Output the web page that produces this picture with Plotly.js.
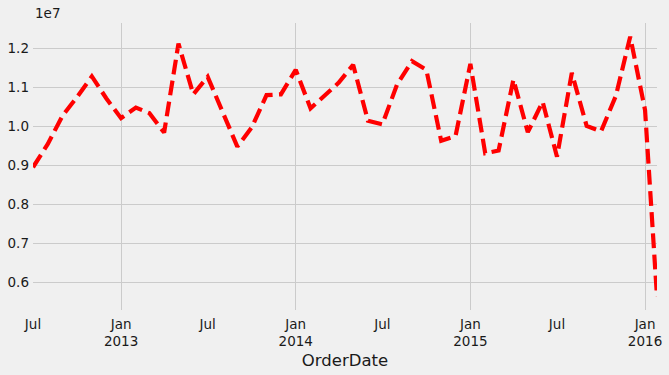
<!DOCTYPE html>
<html>
<head>
<meta charset="utf-8">
<script src="https://cdn.plot.ly/plotly-3.0.1.min.js"></script>
<style>
html, body { margin: 0; padding: 0; background: #f0f0f0; }
#chart { width: 669px; height: 375px; }
</style>
</head>
<body>
<div id="chart"></div>
<script>
// Order dates (monthly) and total sales
const orderDates = [
  "2012-07-01","2012-08-01","2012-09-01","2012-10-01","2012-11-01","2012-12-01",
  "2013-01-01","2013-02-01","2013-03-01","2013-04-01","2013-05-01","2013-06-01",
  "2013-07-01","2013-08-01","2013-09-01","2013-10-01","2013-11-01","2013-12-01",
  "2014-01-01","2014-02-01","2014-03-01","2014-04-01","2014-05-01","2014-06-01",
  "2014-07-01","2014-08-01","2014-09-01","2014-10-01","2014-11-01","2014-12-01",
  "2015-01-01","2015-02-01","2015-03-01","2015-04-01","2015-05-01","2015-06-01",
  "2015-07-01","2015-08-01","2015-09-01","2015-10-01","2015-11-01","2015-12-01",
  "2016-01-01","2016-01-26"
];
const sales = [
  8950000, 9550000, 10280000, 10750000, 11280000, 10720000,
  10210000, 10480000, 10340000, 9840000, 12120000, 10820000,
  11270000, 10400000, 9480000, 9970000, 10800000, 10820000,
  11450000, 10460000, 10780000, 11120000, 11580000, 10140000,
  10050000, 11080000, 11670000, 11450000, 9630000, 9750000,
  11600000, 9310000, 9380000, 11200000, 9850000, 10630000,
  9220000, 11370000, 10010000, 9870000, 10780000, 12300000,
  10420000, 5625000
];

// Axis ticks
const xTickVals = ["2012-07-01","2013-01-01","2013-07-01","2014-01-01","2014-07-01","2015-01-01","2015-07-01","2016-01-01"];
const xTickText = ["Jul","Jan<br>2013","Jul","Jan<br>2014","Jul","Jan<br>2015","Jul","Jan<br>2016"];
const xGridVals = ["2013-01-01","2014-01-01","2015-01-01","2016-01-01"];
const yTickVals = [6000000, 7000000, 8000000, 9000000, 10000000, 11000000, 12000000];
const yTickText = ["0.6","0.7","0.8","0.9","1.0","1.1","1.2"];

const font = { family: "DejaVu Sans, sans-serif", size: 13.5, color: "#1a1a1a" };

const trace = {
  x: orderDates,
  y: sales,
  type: "scatter",
  mode: "lines",
  line: { color: "#ff0000", width: 4.2, dash: "14.8px,6.4px" },
  hoverinfo: "x+y"
};

const layout = {
  width: 669,
  height: 375,
  paper_bgcolor: "#f0f0f0",
  plot_bgcolor: "#f0f0f0",
  font: font,
  showlegend: false,
  margin: { l: 33, r: 12, t: 23, b: 65, pad: 0 },
  xaxis: {
    type: "date",
    range: ["2012-07-01", "2016-01-26"],
    tickmode: "array",
    tickvals: xTickVals,
    ticktext: xTickText,
    ticks: "",
    showgrid: false,
    zeroline: false,
    showline: false,
    tickfont: font,
    ticklabelstandoff: 4,
    minor: {
      tickmode: "array",
      tickvals: xGridVals,
      showgrid: true,
      gridcolor: "#cbcbcb",
      gridwidth: 1,
      ticks: ""
    },
    title: { text: "OrderDate", font: { family: "DejaVu Sans, sans-serif", size: 16.5, color: "#1a1a1a" }, standoff: 6 },
    automargin: false
  },
  yaxis: {
    range: [5290000, 12650000],
    tickmode: "array",
    tickvals: yTickVals,
    ticktext: yTickText,
    ticks: "",
    showgrid: true,
    gridcolor: "#cbcbcb",
    gridwidth: 1,
    zeroline: false,
    showline: false,
    tickfont: font,
    ticklabelstandoff: 3,
    automargin: false
  },
  annotations: [{
    text: "1e7",
    xref: "paper", yref: "paper",
    x: 0, y: 1.034,
    xanchor: "left", yanchor: "middle",
    showarrow: false,
    font: font
  }]
};

Plotly.newPlot("chart", [trace], layout, { displayModeBar: false, staticPlot: true });
</script>
</body>
</html>
